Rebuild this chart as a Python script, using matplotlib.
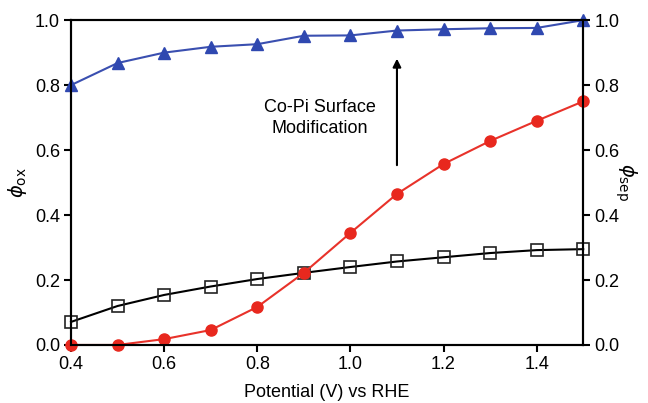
import matplotlib
matplotlib.use("Agg")
import matplotlib.pyplot as plt

plt.rcParams['font.family'] = ['Liberation Sans', 'DejaVu Sans']

potential = [0.4, 0.5, 0.6, 0.7, 0.8, 0.9, 1.0, 1.1, 1.2, 1.3, 1.4, 1.5]
phi_ox_copi = [0.80, 0.868, 0.90, 0.918, 0.926, 0.952, 0.953, 0.968, 0.972, 0.975, 0.976, 1.0]
phi_sep = [0.0, 0.0, 0.018, 0.046, 0.117, 0.222, 0.345, 0.465, 0.557, 0.628, 0.69, 0.75]
phi_ox_bare = [0.071, 0.12, 0.154, 0.18, 0.203, 0.222, 0.24, 0.257, 0.27, 0.283, 0.292, 0.295]

xticks = [0.4, 0.6, 0.8, 1.0, 1.2, 1.4]
yticks = [0.0, 0.2, 0.4, 0.6, 0.8, 1.0]

fig = plt.figure(figsize=(6.48, 4.03), dpi=100)
ax = fig.add_axes([0.1096, 0.144, 0.7904, 0.806])

ax.plot(potential, phi_ox_bare, color='black', lw=1.5, marker='s', ms=8,
        mfc='none', mec='#222222', mew=1.2, clip_on=False, zorder=3)
ax.plot(potential, phi_sep, color='#e8322a', lw=1.5, marker='o', ms=8,
        mfc='#e8281e', mec='#e8281e', clip_on=False, zorder=4)
ax.plot(potential, phi_ox_copi, color='#3a4fb0', lw=1.5, marker='^', ms=9,
        mfc='#2f48b0', mec='#2f48b0', clip_on=False, zorder=5)

ax.set_xlim(0.4, 1.5)
ax.set_ylim(0.0, 1.0)
ax.set_xticks(xticks)
ax.set_yticks(yticks)
ax.set_xticklabels([f"{t:.1f}" for t in xticks])
ax.set_yticklabels([f"{t:.1f}" for t in yticks])
ax.tick_params(axis='both', labelsize=13, length=5, width=1.5, direction='out', pad=3)
for s in ax.spines.values():
    s.set_linewidth(1.5)
ax.set_xlabel("Potential (V) vs RHE", fontsize=13, labelpad=8)
ax.set_ylabel(r"$\phi_{\mathrm{ox}}$", fontsize=14, labelpad=4)

ax2 = ax.twinx()
ax2.set_ylim(0.0, 1.0)
ax2.set_yticks(yticks)
ax2.set_yticklabels([f"{t:.1f}" for t in yticks])
ax2.tick_params(axis='y', labelsize=13, length=5, width=1.5, direction='out', pad=3)
for s in ax2.spines.values():
    s.set_linewidth(1.5)
ax2.set_ylabel(r"$\phi_{\mathrm{sep}}$", fontsize=14, rotation=-90, labelpad=14)
ax2.yaxis.label.set_rotation(270)

ax.annotate("", xy=(1.1, 0.89), xytext=(1.1, 0.545),
            arrowprops=dict(arrowstyle='-|>', color='black', lw=1.5, mutation_scale=12))
ax.text(0.935, 0.70, "Co-Pi Surface\nModification", ha='center', va='center',
        fontsize=13, linespacing=1.3)

fig.savefig("out.png", dpi=100)
